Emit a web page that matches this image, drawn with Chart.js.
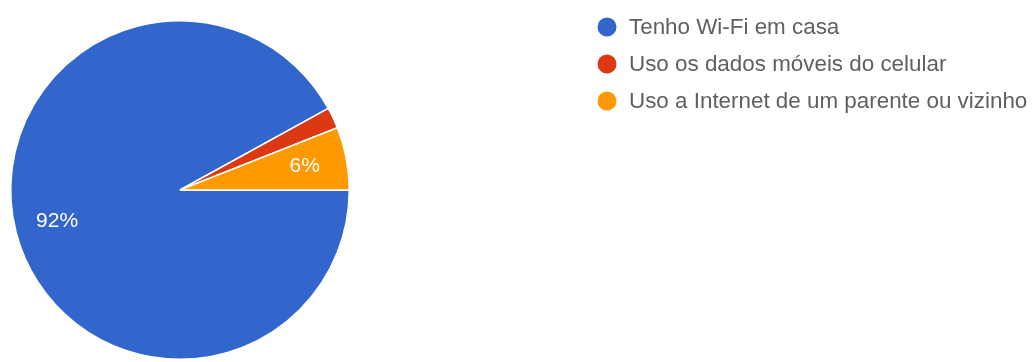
<!DOCTYPE html>
<html>
<head>
<meta charset="utf-8">
<style>
  html, body { margin: 0; padding: 0; background: #ffffff; }
  #wrap { position: relative; width: 1032px; height: 362px; }
  canvas { display: block; }
</style>
<script src="https://cdn.jsdelivr.net/npm/chart.js@4/dist/chart.umd.min.js"></script>
</head>
<body>
<div id="wrap"><canvas id="c" width="1032" height="362"></canvas></div>
<script>
const categories = [
  "Tenho Wi-Fi em casa",
  "Uso os dados móveis do celular",
  "Uso a Internet de um parente ou vizinho"
];
const values = [92, 2, 6];
const sliceLabels = ["92%", "", "6%"];
const colors = ["#3366cc", "#dc3912", "#ff9900"];

const labelPlugin = {
  id: 'sliceLabels',
  afterDatasetsDraw(chart) {
    const ctx = chart.ctx;
    const meta = chart.getDatasetMeta(0);
    ctx.save();
    ctx.fillStyle = '#ffffff';
    ctx.font = '21px Arial, "Liberation Sans", sans-serif';
    ctx.textAlign = 'center';
    ctx.textBaseline = 'middle';
    meta.data.forEach((arc, i) => {
      const t = sliceLabels[i];
      if (!t) return;
      const p = arc.getProps(['x', 'y', 'startAngle', 'endAngle', 'outerRadius'], true);
      const mid = (p.startAngle + p.endAngle) / 2;
      const d = p.outerRadius * 0.75;
      ctx.fillText(t, p.x + Math.cos(mid) * d, p.y + Math.sin(mid) * d);
    });
    ctx.restore();
  }
};

const legendPlugin = {
  id: 'sideLegend',
  afterDraw(chart) {
    const ctx = chart.ctx;
    ctx.save();
    ctx.font = '22.4px Arial, "Liberation Sans", sans-serif';
    ctx.textBaseline = 'middle';
    ctx.textAlign = 'left';
    chart.data.labels.forEach((lab, i) => {
      const y = 27 + i * 37;
      ctx.beginPath();
      ctx.fillStyle = chart.data.datasets[0].backgroundColor[i];
      ctx.arc(607, y, 9.5, 0, Math.PI * 2);
      ctx.fill();
      ctx.fillStyle = '#606060';
      ctx.fillText(lab, 629, y + 1);
    });
    ctx.restore();
  }
};

new Chart(document.getElementById('c'), {
  type: 'pie',
  data: {
    labels: categories,
    datasets: [{
      data: values,
      backgroundColor: colors,
      borderColor: '#ffffff',
      borderWidth: 1.5
    }]
  },
  options: {
    responsive: false,
    animation: false,
    rotation: 90,
    layout: { padding: { left: 10, right: 682, top: 20, bottom: 2 } },
    plugins: {
      legend: { display: false },
      tooltip: { enabled: false }
    }
  },
  plugins: [labelPlugin, legendPlugin]
});
</script>
</body>
</html>
